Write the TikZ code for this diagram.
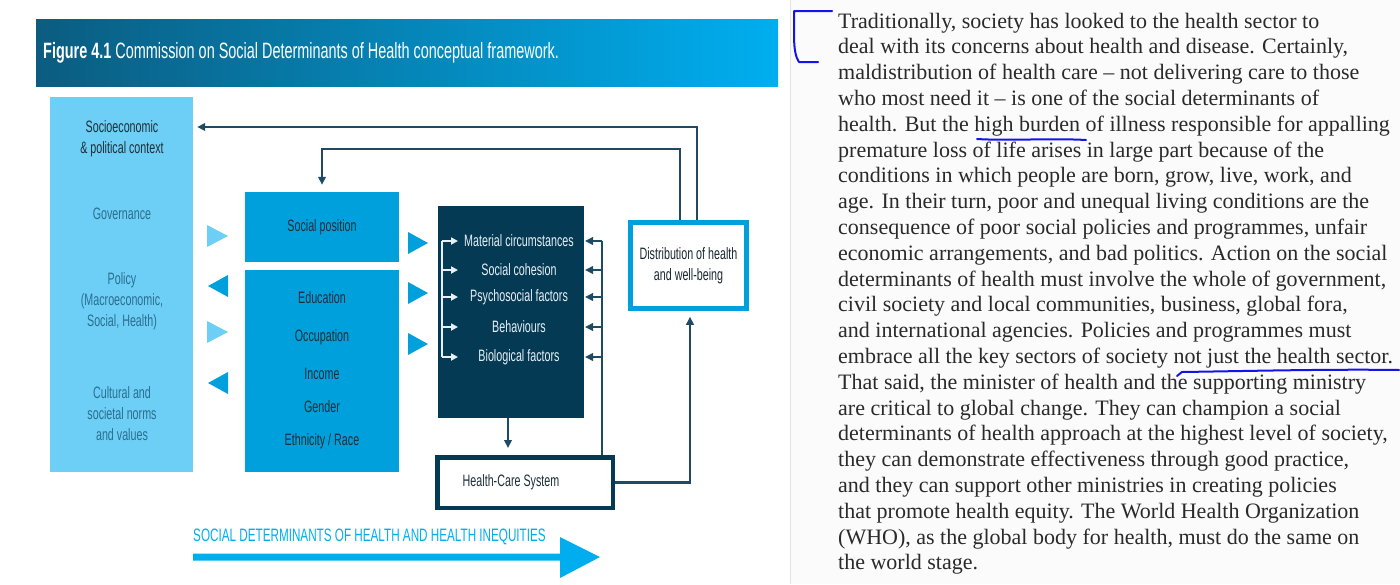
\documentclass[tikz,border=0pt]{standalone}
\usepackage{fontspec}
\usetikzlibrary{arrows.meta}
\newfontfamily\condf[FakeStretch=0.65]{Liberation Sans}
\newfontfamily\bodyf{Liberation Serif}
\definecolor{banL}{HTML}{0B5C80}
\definecolor{banR}{HTML}{00AEEF}
\definecolor{ctxc}{HTML}{6DCFF6}
\definecolor{midc}{HTML}{00A0DC}
\definecolor{darkc}{HTML}{053A55}
\definecolor{linec}{HTML}{1E4A64}
\definecolor{mutedt}{HTML}{2A6E90}
\definecolor{darkt}{HTML}{1E2F38}
\definecolor{whitet}{HTML}{E6F0F5}
\definecolor{bodyt}{HTML}{2A2A2A}
\definecolor{pen}{HTML}{1414E6}
\definecolor{cyanc}{HTML}{00AEEF}
\definecolor{panel}{HTML}{FBFBFB}
\tikzset{
  dtext/.style={font=\condf\fontsize{16.5}{21}\selectfont, align=center, inner sep=0pt},
  conn/.style={draw=linec, line width=2.2pt},
  tip/.style={-{Triangle[length=8pt,width=7.5pt]}},
  wline/.style={draw=whitet, line width=2pt},
  wtip/.style={-{Triangle[length=7pt,width=7pt]}},
  body/.style={font=\bodyf\fontsize{22}{26}\selectfont, text=bodyt, inner sep=0pt, anchor=mid west},
  penline/.style={draw=pen, line width=2pt, line cap=round, line join=round},
}
\begin{document}
\begin{tikzpicture}[x=1pt,y=-1pt]
\useasboundingbox (0,0) rectangle (1400,584);
\fill[white] (0,0) rectangle (1400,584);
\fill[panel] (790,0) rectangle (1400,584);
\draw[gray!22, line width=1pt] (790,0) -- (790,584);

% banner
\shade[left color=banL, right color=banR] (36,19) rectangle (778,86);
\node[anchor=west, text=white, font=\condf\fontsize{22.2}{26}\selectfont, inner sep=0pt] (title) at (43,53)
  {\textbf{Figure 4.1} Commission on Social Determinants of Health conceptual framework.};

% left context box
\node[fill=ctxc, inner sep=0pt, minimum width=143pt, minimum height=375pt] (ctx) at (121.5,284.5) {};
\node[dtext, text=darkt] (se) at (122,138.5) {Socioeconomic\\\& political context};
\node[dtext, text=mutedt] (gov) at (122,214) {Governance};
\node[dtext, text=mutedt] (pol) at (122,301.5) {Policy\\(Macroeconomic,\\Social, Health)};
\node[dtext, text=mutedt] (cul) at (122,414) {Cultural and\\societal norms\\and values};

% social position boxes
\node[fill=midc, dtext, text=darkt, minimum width=154pt, minimum height=70pt] (sp) at (322,227) {Social position};
\node[fill=midc, inner sep=0pt, minimum width=154pt, minimum height=202pt] (st) at (322,371) {};
\node[dtext, text=darkt] (edu) at (322,298) {Education};
\node[dtext, text=darkt] (occ) at (322,337) {Occupation};
\node[dtext, text=darkt] (inc) at (322,374) {Income};
\node[dtext, text=darkt] (gen) at (322,407) {Gender};
\node[dtext, text=darkt] (eth) at (322,441) {Ethnicity / Race};

% intermediary box
\node[fill=darkc, inner sep=0pt, minimum width=146pt, minimum height=212pt] (inter) at (511,312) {};
\node[dtext, text=whitet] (m1) at (519,241) {Material circumstances};
\node[dtext, text=whitet] (m2) at (519,270) {Social cohesion};
\node[dtext, text=whitet] (m3) at (519,297) {Psychosocial factors};
\node[dtext, text=whitet] (m4) at (519,327) {Behaviours};
\node[dtext, text=whitet] (m5) at (519,357) {Biological factors};

% distribution and health-care boxes
\node[draw=midc, line width=4.5pt, fill=white, dtext, text=darkt!85!black, minimum width=116pt, minimum height=86pt] (dist) at (688.5,265.5) {Distribution of health\\and well-being};
\node[draw=darkc, line width=4.5pt, fill=white, inner sep=0pt, minimum width=175.5pt, minimum height=50.5pt] (hcs) at (525,482.5) {};
\node[dtext, text=darkt] (hcsl) at (511,482) {Health-Care System};

% triangles
\fill[ctxc] (207,225) -- (228,236) -- (207,247) -- cycle;
\fill[ctxc] (207,321) -- (228,332) -- (207,343) -- cycle;
\fill[midc] (228,275) -- (208,286) -- (228,297) -- cycle;
\fill[midc] (228,372) -- (208,383) -- (228,394) -- cycle;
\fill[midc] (408,232) -- (428,243) -- (408,254) -- cycle;
\fill[midc] (408,282) -- (428,293) -- (408,304) -- cycle;
\fill[midc] (408,333) -- (428,344) -- (408,355) -- cycle;

% helper coordinates
\coordinate (t1) at (0,127);
\coordinate (t2) at (0,149);
\coordinate (bx) at (442,0);
\coordinate (bt) at (458,0);
\coordinate (rx) at (602,0);
\coordinate (rt) at (585,0);
\coordinate (dx) at (508,0);

% feedback connectors
\draw[conn, tip, shorten >=4pt] ([xshift=8.5pt]dist.north) |- (ctx.east |- t1);
\draw[conn, tip, shorten >=7pt] ([xshift=-8.5pt]dist.north) |- (t2 -| sp.north) -- (sp.north);

% bracket inside intermediary box
\draw[wline] (bx |- m1) -- (bx |- m5);
\foreach \i in {1,...,5} \draw[wline, wtip] (bx |- m\i) -- (bt |- m\i);

% right-hand feeds from health-care system
\draw[conn] (hcs.north -| rx) -- (rx |- m1);
\foreach \i in {1,...,5} \draw[conn, tip] (rx |- m\i) -- (rt |- m\i);

\draw[conn, tip, shorten >=7pt] (inter.south -| dx) -- (hcs.north -| dx);
\draw[conn, tip, shorten >=6pt] (hcs.east) -| ([xshift=1.5pt]dist.south);

% bottom arrow
\fill[cyanc] (193,553.5) -- (560,553.5) -- (560,537) -- (600,557) -- (560,578) -- (560,560.5) -- (193,560.5) -- cycle;
\node[anchor=west, text=cyanc, font=\condf\fontsize{18}{21}\selectfont, inner sep=0pt] (sdh) at (193,537) {SOCIAL DETERMINANTS OF HEALTH AND HEALTH INEQUITIES};

% right text
\node[body] (l1) at (838,26.0) {Traditionally, society has looked to the health sector to};
\node[body] (l2) at (838,51.8) {deal with its concerns about health and disease. Certainly,};
\node[body] (l3) at (838,77.6) {maldistribution of health care – not delivering care to those};
\node[body] (l4) at (838,103.4) {who most need it – is one of the social determinants of};
\node[body] (l5) at (838,129.2) {health. But the high burden of illness responsible for appalling};
\node[body] (l6) at (838,155.0) {premature loss of life arises in large part because of the};
\node[body] (l7) at (838,180.8) {conditions in which people are born, grow, live, work, and};
\node[body] (l8) at (838,206.6) {age. In their turn, poor and unequal living conditions are the};
\node[body] (l9) at (838,232.4) {consequence of poor social policies and programmes, unfair};
\node[body] (l10) at (838,258.2) {economic arrangements, and bad politics. Action on the social};
\node[body] (l11) at (838,284.0) {determinants of health must involve the whole of government,};
\node[body] (l12) at (838,309.8) {civil society and local communities, business, global fora,};
\node[body] (l13) at (838,335.6) {and international agencies. Policies and programmes must};
\node[body] (l14) at (838,361.4) {embrace all the key sectors of society not just the health sector.};
\node[body] (l15) at (838,387.2) {That said, the minister of health and the supporting ministry};
\node[body] (l16) at (838,413.0) {are critical to global change. They can champion a social};
\node[body] (l17) at (838,438.8) {determinants of health approach at the highest level of society,};
\node[body] (l18) at (838,464.6) {they can demonstrate effectiveness through good practice,};
\node[body] (l19) at (838,490.4) {and they can support other ministries in creating policies};
\node[body] (l20) at (838,516.2) {that promote health equity. The World Health Organization};
\node[body] (l21) at (838,542.0) {(WHO), as the global body for health, must do the same on};
\node[body] (l22) at (838,567.8) {the world stage.};

% pen annotations
\draw[penline] (832,11) -- (794,11) -- (794,35) .. controls (794,50) and (796,58) .. (799,62) -- (818,62);
\draw[penline] (977,139) .. controls (1010,141) and (1050,138) .. (1086,140);
\draw[penline] (1177,376) -- (1182,372) .. controls (1250,371) and (1330,369) .. (1399,370);
\end{tikzpicture}
\end{document}
